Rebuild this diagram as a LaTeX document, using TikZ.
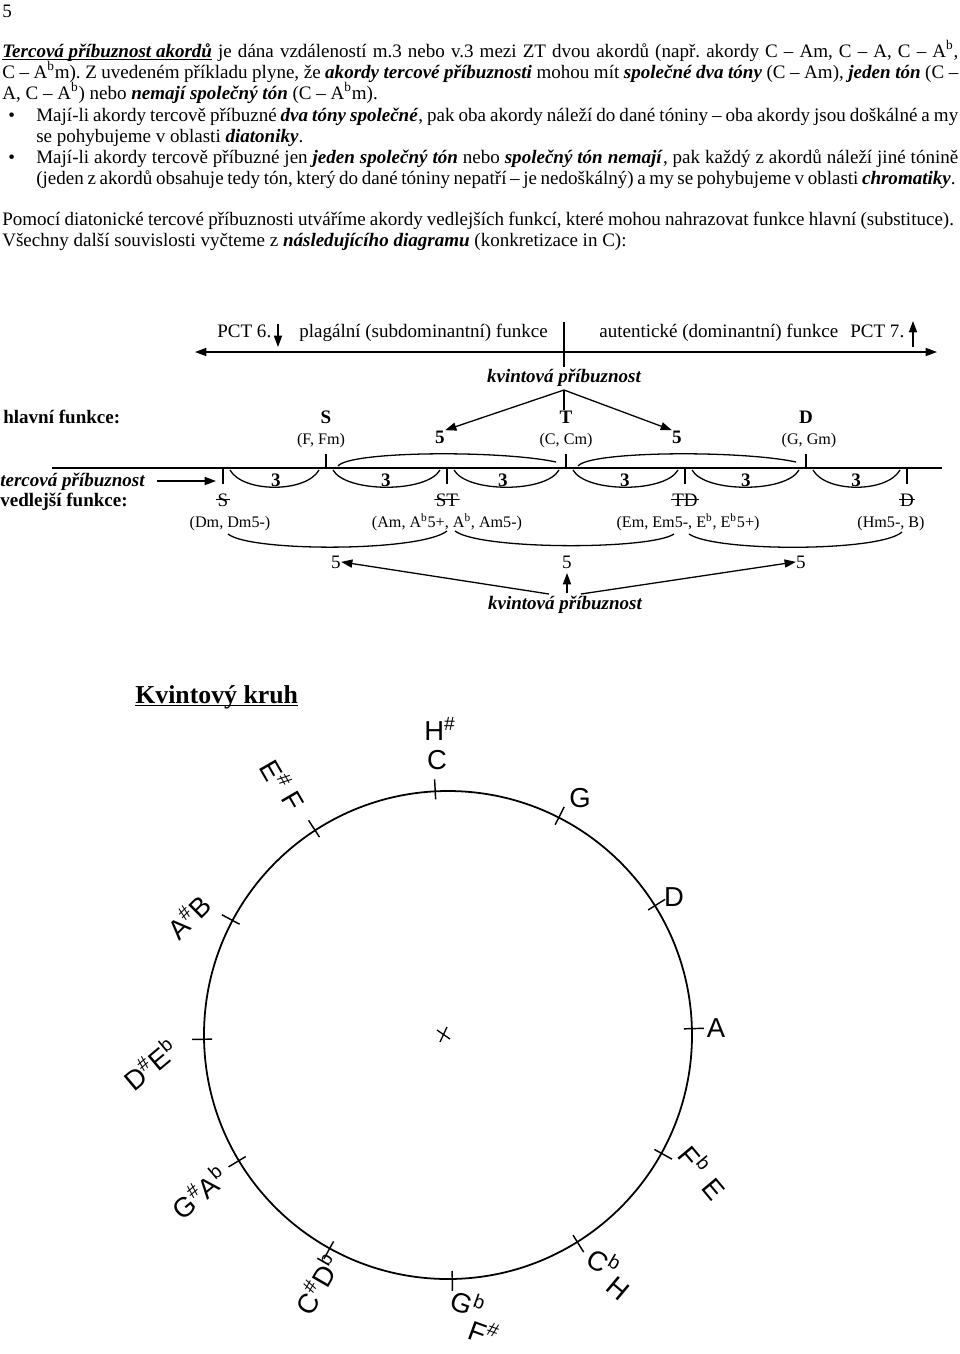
\documentclass[tikz,border=0pt]{standalone}
\usepackage{fontspec}
\setmainfont{Liberation Serif}
\newfontfamily\handfont{Liberation Sans}
\usepackage{tikz}
\usetikzlibrary{arrows.meta}
\newcommand{\emb}[1]{\textbf{\textit{#1}}}
\newcommand{\sups}[1]{\textsuperscript{#1}}
\newcommand{\ulin}[1]{\underline{\smash{#1}}}

\begin{document}
\fontsize{11.8}{14}\selectfont\frenchspacing
\begin{tikzpicture}[x=0.62pt, y=-0.62pt,
  txt/.style={anchor=base west, inner sep=0pt},
  lbl/.style={anchor=base, inner sep=0pt},
  small/.style={font=\fontsize{10}{12}\selectfont},
  struck/.style={lbl, inner xsep=1pt, path picture={\draw[line width=0.6pt] (path picture bounding box.west) -- (path picture bounding box.east);}},
  arr/.style={-{Triangle[length=7pt,width=5pt]}, line width=0.8pt},
  bow/.style={line width=0.8pt},
  tick/.style={line width=0.9pt},
  hand/.style={font=\handfont\fontsize{17}{17}\selectfont, inner sep=0pt}]
\useasboundingbox (0,0) rectangle (960,1354);

\node[txt] (n0) at (2,17) {5};
\node[txt] (t1) at (2,57) {\makebox[592.7pt][s]{\ulin{\emb{Tercová příbuznost akordů}} je dána vzdáleností m.3 nebo v.3 mezi ZT dvou akordů (např. akordy C – Am, C – A, C – A\sups{b},}};
\node[txt] (t2) at (2,78) {\makebox[592.7pt][s]{C – A\sups{b}m). Z uvedeném příkladu plyne, že \emb{akordy tercové příbuznosti} mohou mít \emb{společné dva tóny} (C – Am), \emb{jeden tón} (C –}};
\node[txt] (t3) at (2,99) {A, C – A\sups{b}) nebo \emb{nemají společný tón} (C – A\sups{b}m).};
\node[txt] (b1) at (8,121) {\textbullet};
\node[txt] (t4) at (36,121) {\makebox[571.6pt][s]{Mají-li akordy tercově příbuzné \emb{dva tóny společné}, pak oba akordy náleží do dané tóniny – oba akordy jsou doškálné a my}};
\node[txt] (t5) at (36,142) {se pohybujeme v oblasti \emb{diatoniky}.};
\node[txt] (b2) at (8,163) {\textbullet};
\node[txt] (t6) at (36,163) {\makebox[571.6pt][s]{Mají-li akordy tercově příbuzné jen \emb{jeden společný tón} nebo \emb{společný tón nemají}, pak každý z akordů náleží jiné tónině}};
\node[txt] (t7) at (36,184) {\makebox[570pt][s]{(jeden z akordů obsahuje tedy tón, který do dané tóniny nepatří – je nedoškálný) a my se pohybujeme v oblasti \emb{chromatiky}.}};
\node[txt] (t8) at (2,225) {\makebox[590pt][s]{Pomocí diatonické tercové příbuznosti utváříme akordy vedlejších funkcí, které mohou nahrazovat funkce hlavní (substituce).}};
\node[txt] (t9) at (2,246) {Všechny další souvislosti vyčteme z \emb{následujícího diagramu} (konkretizace in C):};

\coordinate (axL) at (195,352);
\coordinate (axR) at (937,352);
\draw[{Triangle[length=7pt,width=5pt]}-{Triangle[length=7pt,width=5pt]}, line width=0.8pt] (axL) -- (axR);
\coordinate (mtop) at (564,322);
\coordinate (mbot) at (564,367);
\draw[bow] (mtop) -- (mbot);
\node[txt] (pct6) at (217,337) {PCT 6.};
\coordinate (d6a) at (278,324);
\coordinate (d6b) at (278,347);
\draw[arr] (d6a) -- (d6b);
\node[txt] (plag) at (299,337) {plagální (subdominantní) funkce};
\node[txt] (aut) at (599,337) {autentické (dominantní) funkce};
\node[txt] (pct7) at (850,337) {PCT 7.};
\coordinate (u7a) at (913,347);
\coordinate (u7b) at (913,321);
\draw[arr] (u7a) -- (u7b);
\node[lbl, font=\bfseries\itshape] (kvA) at (564,382) {kvintová příbuznost};

\coordinate (br) at (564,390);
\coordinate (brE) at (564,410);
\draw[bow] (br) -- (brE);
\node[txt, font=\bfseries] (hf) at (3,423) {hlavní funkce:};
\node[lbl, font=\bfseries] (S) at (326,423) {S};
\node[lbl, font=\bfseries] (T) at (566,423) {T};
\node[lbl, font=\bfseries] (D) at (806,423) {D};
\node[lbl, small] (Fm) at (321,444) {(F, Fm)};
\node[lbl, small] (Cm) at (566,444) {(C, Cm)};
\node[lbl, small] (Gm) at (809,444) {(G, Gm)};
\node[lbl, font=\bfseries] (fA) at (440,443) {5};
\node[lbl, font=\bfseries] (fB) at (677,443) {5};
\draw[arr] (br) -- (fA.north east);
\draw[arr] (br) -- (fB.north west);

\coordinate (mlL) at (52,468);
\coordinate (mlR) at (942,468);
\draw[bow] (mlL) -- (mlR);
\coordinate (pS) at (326,468);
\coordinate (pT) at (566,468);
\coordinate (pD) at (806,468);
\coordinate (pSv) at (223,468);
\coordinate (pST) at (447,468);
\coordinate (pTD) at (685,468);
\coordinate (pDv) at (907,468);
\draw[tick] (pS) -- (326,454);
\draw[tick] (pT) -- (566,454);
\draw[tick] (pD) -- (806,454);
\draw[tick] (pSv) -- (223,484);
\draw[tick] (pST) -- (447,484);
\draw[tick] (pTD) -- (685,484);
\draw[tick] (pDv) -- (907,484);

\draw[bow] (338,466) .. controls (350,451) and (500,450) .. (556,462);
\draw[bow] (578,466) .. controls (590,451) and (740,450) .. (796,462);

\draw[bow] (230,470) .. controls (243,493) and (306,493) .. (319,470);
\draw[bow] (333,470) .. controls (346,493) and (427,493) .. (440,470);
\draw[bow] (454,470) .. controls (467,493) and (546,493) .. (559,470);
\draw[bow] (573,470) .. controls (586,493) and (665,493) .. (678,470);
\draw[bow] (692,470) .. controls (705,493) and (786,493) .. (799,470);
\draw[bow] (813,470) .. controls (826,493) and (887,493) .. (900,470);
\node[lbl, font=\bfseries] (th1) at (276,486) {3};
\node[lbl, font=\bfseries] (th2) at (386,486) {3};
\node[lbl, font=\bfseries] (th3) at (503,486) {3};
\node[lbl, font=\bfseries] (th4) at (625,486) {3};
\node[lbl, font=\bfseries] (th5) at (746,486) {3};
\node[lbl, font=\bfseries] (th6) at (856,486) {3};

\node[txt, font=\bfseries\itshape] (tp) at (0,486) {tercová příbuznost};
\coordinate (tpA) at (157,481);
\coordinate (tpE) at (216,481);
\draw[arr] (tpA) -- (tpE);
\node[txt, font=\bfseries] (vf) at (0,506) {vedlejší funkce:};
\node[struck] (Sv) at (223,506) {S};
\node[struck] (ST) at (447,506) {ST};
\node[struck] (TD) at (685,506) {TD};
\node[struck] (Dv) at (907,506) {D};
\node[lbl, small] (Dm) at (230,527) {(Dm, Dm5-)};
\node[lbl, small] (Am) at (447,527) {(Am, A\sups{b}5+, A\sups{b}, Am5-)};
\node[lbl, small] (Em) at (688,527) {(Em, Em5-, E\sups{b}, E\sups{b}5+)};
\node[lbl, small] (Hm) at (891,527) {(Hm5-, B)};

\draw[bow] (228,534) .. controls (250,552) and (420,552) .. (447,531);
\draw[bow] (455,531) .. controls (480,550) and (650,550) .. (674,534);
\draw[bow] (689,534) .. controls (715,552) and (880,552) .. (902,532);
\node[lbl] (fiveL) at (336,568) {5};
\node[lbl] (fiveM) at (567,568) {5};
\node[lbl] (fiveR) at (801,568) {5};
\node[lbl, font=\bfseries\itshape] (kvB) at (565,609) {kvintová příbuznost};
\coordinate (k1) at (549,594);
\coordinate (k2) at (567,593);
\coordinate (k3) at (581,594);
\coordinate (k2t) at (567,573);
\draw[arr] (k1) -- (fiveL.east);
\draw[arr] (k2) -- (k2t);
\draw[arr] (k3) -- (fiveR.west);

\node[txt, font=\fontsize{16}{18}\selectfont\bfseries] (title) at (135,703) {\ulin{Kvintový kruh}};

\coordinate (O) at (448,1035);
\draw[line width=1.1pt] (O) circle[radius=244];
\coordinate (mark) at (443,1035);
\draw[bow] (mark) +(-6,-5) -- +(7,4);
\draw[bow] (mark) +(-3,7) -- +(4,-8);
\draw[tick] (O) ++(-93:236) -- ++(-93:20);
\draw[tick] (O) ++(-63:236) -- ++(-63:20);
\draw[tick] (O) ++(-32:236) -- ++(-32:20);
\draw[tick] (O) ++(-1.5:236) -- ++(-1.5:20);
\draw[tick] (O) ++(29:236) -- ++(29:20);
\draw[tick] (O) ++(58:236) -- ++(58:20);
\draw[tick] (O) ++(89:236) -- ++(89:20);
\draw[tick] (O) ++(119:236) -- ++(119:20);
\draw[tick] (O) ++(149:236) -- ++(149:20);
\draw[tick] (O) ++(179:236) -- ++(179:20);
\draw[tick] (O) ++(208:236) -- ++(208:20);
\draw[tick] (O) ++(237:236) -- ++(237:20);

\node[hand] (His) at (440,729) {H\sups{\#}};
\node[hand] (C) at (437,760) {C};
\node[hand] (G) at (580,798) {G};
\node[hand] (Dk) at (674,897) {D};
\node[hand] (A) at (716,1028) {A};
\node[hand, rotate=-50] (Fes) at (695,1160) {F\sups{b}};
\node[hand, rotate=-50] (E) at (714,1189) {E};
\node[hand, rotate=-30] (Ces) at (604,1262) {C\sups{b}};
\node[hand, rotate=-40] (H) at (618,1289) {H};
\node[hand, rotate=-20] (Ges) at (468,1303) {G\sups{b}};
\node[hand, rotate=-20] (Fis) at (484,1332) {F\sups{\#}};
\node[hand, rotate=60] (Cis) at (317,1284) {C\sups{\#}D\sups{b}};
\node[hand, rotate=40] (Gis) at (199,1192) {G\sups{\#}A\sups{b}};
\node[hand, rotate=40] (Dis) at (150,1064) {D\sups{\#}E\sups{b}};
\node[hand, rotate=45] (Ais) at (188,916) {A\sups{\#}B};
\node[hand, rotate=-60] (Eis) at (276,775) {E\sups{\#}};
\node[hand, rotate=-60] (F) at (293,801) {F};
\end{tikzpicture}
\end{document}
